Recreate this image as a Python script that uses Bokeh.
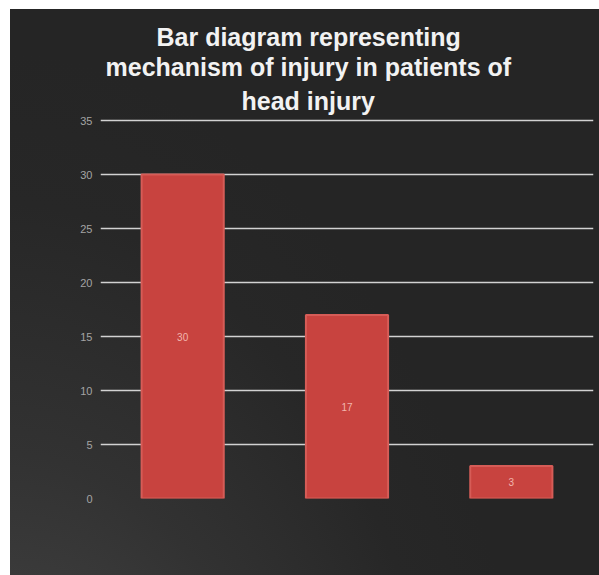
from bokeh.plotting import figure
from bokeh.models import (Range1d, FixedTicker, ColumnDataSource, LabelSet, Title,
                          Legend, LegendItem)
from bokeh.embed import file_html
from bokeh.resources import INLINE
from bokeh.core.properties import value

# Chart content
title_lines = ["Bar diagram representing",
               "mechanism of injury in patients of",
               "head injury"]
series_name = "Series 1"
values = [30, 17, 3]
y_ticks = [0, 5, 10, 15, 20, 25, 30, 35]

FONT = "Liberation Sans"
TITLE_PX = 25

BORDER_L, BORDER_R, BORDER_T, BORDER_B = 100, 6, 118, 77
FRAME_W, FRAME_H = 493, 380
TOP_PAD_PX = 2          # keeps the top gridline inside the frame

# advance widths (1/1000 em) of Liberation Sans Bold, used to centre the title lines
BOLD_WIDTHS = {" ": 278, "B": 722, "a": 556, "c": 556, "d": 611, "e": 556, "f": 333,
               "g": 611, "h": 611, "i": 278, "j": 278, "m": 889, "n": 611, "o": 611,
               "p": 611, "r": 389, "s": 556, "t": 333, "u": 611, "y": 556}


def text_width(s, size):
    return sum(BOLD_WIDTHS.get(ch, 556) for ch in s) * size / 1000.0


positions = list(range(1, len(values) + 1))
src = ColumnDataSource(dict(
    x=positions,
    top=values,
    mid=[v / 2 for v in values],
    label=[str(v) for v in values],
))

x0, x1 = 0.5, len(values) + 0.5
y0 = y_ticks[0]
y1 = y_ticks[-1] + TOP_PAD_PX * (y_ticks[-1] - y_ticks[0]) / (FRAME_H - TOP_PAD_PX)

p = figure(frame_width=FRAME_W, frame_height=FRAME_H,
           x_range=Range1d(x0, x1), y_range=Range1d(y0, y1),
           output_backend="svg", toolbar_location=None,
           min_border_left=BORDER_L, min_border_right=BORDER_R,
           min_border_top=BORDER_T, min_border_bottom=BORDER_B)
p.background_fill_alpha = 0
p.border_fill_alpha = 0
p.outline_line_color = None
# white page edge on the left and top, dark shaded card behind the chart
p.styles = {"background": "linear-gradient(to right, #ffffff 10px, transparent 10px), "
                          "linear-gradient(to bottom, #ffffff 9px, transparent 9px), "
                          "radial-gradient(ellipse 95% 95% at 0% 100%, #5e5e5e 0%, #474747 28%, "
                          "#323232 60%, #272727 85%, #252525 100%)"}

# horizontal gridlines (none at zero)
p.xgrid.visible = False
p.ygrid.ticker = FixedTicker(ticks=y_ticks[1:])
p.ygrid.grid_line_color = "#d2d2d2"
p.ygrid.grid_line_width = 1.6

# value axis
yax = p.yaxis[0]
yax.ticker = FixedTicker(ticks=y_ticks)
yax.axis_line_color = None
yax.major_tick_line_color = None
yax.minor_tick_line_color = None
yax.major_tick_out = 0
yax.major_tick_in = 0
yax.major_label_standoff = 8
yax.major_label_text_color = "#a4a4a4"
yax.major_label_text_font = FONT
yax.major_label_text_font_size = "11px"

# the category axis carries no names
p.xaxis.visible = False

bars = p.vbar(x="x", top="top", bottom=0, width=0.5, source=src,
              fill_color="#c8433f", line_color="#d65c57", line_width=2)

p.add_layout(LabelSet(x="x", y="mid", text="label", source=src,
                      text_align="center", text_baseline="middle",
                      text_font=value(FONT), text_font_size="10px",
                      text_color="#f2b6ae"))

# title: three centred bold lines stacked above the plot area (last line nearest)
title_center = 308 - BORDER_L     # centre of the title, relative to the frame's left edge
for i, line in reversed(list(enumerate(title_lines))):
    off = round(title_center - text_width(line, TITLE_PX) / 2)
    p.add_layout(Title(text=line, align="left", offset=off,
                       standoff=8 if i == len(title_lines) - 1 else 0,
                       text_font=FONT, text_font_style="bold",
                       text_font_size=f"{TITLE_PX}px", text_color="#f2f2f2"),
                 "above")

# legend sits in the bottom border; its margin sets the gap below the bars
legend = Legend(items=[LegendItem(label=series_name, renderers=[bars])],
                location=(178, 0), orientation="horizontal",
                background_fill_alpha=0, border_line_alpha=0,
                label_text_color="#aaaaaa", label_text_font=FONT,
                label_text_font_size="11px", label_height=10,
                glyph_width=6, glyph_height=6, label_standoff=4,
                padding=4, margin=24)
p.add_layout(legend, "below")

open("out.html", "w").write(file_html(p, INLINE))
